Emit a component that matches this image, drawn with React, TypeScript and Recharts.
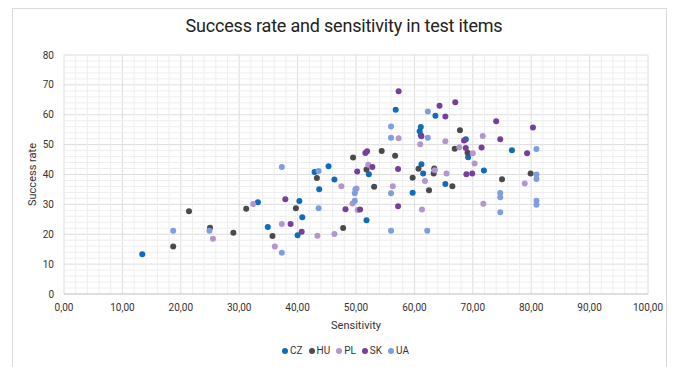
import React from "react";
import {
  ScatterChart,
  Scatter,
  XAxis,
  YAxis,
  CartesianGrid,
  ReferenceLine,
} from "recharts";

// sensitivity (x), success rate (y) per country
const czData = [
  { x: 13.4, y: 13.3 }, { x: 33.2, y: 30.7 }, { x: 34.9, y: 22.4 }, { x: 40.3, y: 31.1 },
  { x: 40.8, y: 25.7 }, { x: 40.0, y: 19.7 }, { x: 43.7, y: 35.1 }, { x: 42.9, y: 40.8 },
  { x: 45.3, y: 42.8 }, { x: 46.3, y: 38.3 }, { x: 52.2, y: 40.1 }, { x: 51.8, y: 24.7 },
  { x: 56.8, y: 61.7 }, { x: 61.5, y: 40.3 }, { x: 61.2, y: 43.4 }, { x: 61.1, y: 55.9 },
  { x: 60.9, y: 54.5 }, { x: 61.1, y: 53.1 }, { x: 63.6, y: 59.7 }, { x: 68.8, y: 51.8 },
  { x: 69.2, y: 45.8 }, { x: 71.9, y: 41.3 }, { x: 76.7, y: 48.1 }, { x: 59.7, y: 33.9 },
  { x: 65.3, y: 36.8 },
];
const huData = [
  { x: 18.7, y: 15.9 }, { x: 21.4, y: 27.7 }, { x: 25.0, y: 22.2 }, { x: 29.0, y: 20.5 },
  { x: 31.2, y: 28.5 }, { x: 35.7, y: 19.4 }, { x: 39.7, y: 28.7 }, { x: 43.3, y: 38.8 },
  { x: 47.8, y: 22.1 }, { x: 49.5, y: 45.7 }, { x: 54.4, y: 47.9 }, { x: 56.7, y: 46.3 },
  { x: 51.8, y: 41.7 }, { x: 53.1, y: 35.9 }, { x: 59.7, y: 38.9 }, { x: 60.7, y: 41.9 },
  { x: 63.4, y: 42.0 }, { x: 63.3, y: 40.3 }, { x: 67.8, y: 54.8 }, { x: 66.9, y: 48.6 },
  { x: 69.1, y: 47.3 }, { x: 75.0, y: 38.4 }, { x: 62.5, y: 34.7 }, { x: 66.5, y: 36.1 },
  { x: 79.9, y: 40.3 },
];
const plData = [
  { x: 25.5, y: 18.5 }, { x: 32.4, y: 30.1 }, { x: 36.1, y: 15.9 }, { x: 37.3, y: 23.4 },
  { x: 43.4, y: 19.5 }, { x: 47.5, y: 36.1 }, { x: 46.3, y: 20.1 }, { x: 52.1, y: 43.3 },
  { x: 50.1, y: 35.3 }, { x: 49.4, y: 30.3 }, { x: 50.3, y: 28.1 }, { x: 56.3, y: 36.1 },
  { x: 57.3, y: 52.1 }, { x: 61.0, y: 50.1 }, { x: 63.5, y: 41.4 }, { x: 65.5, y: 40.3 },
  { x: 65.3, y: 51.1 }, { x: 67.7, y: 49.1 }, { x: 71.7, y: 52.9 }, { x: 70.0, y: 47.1 },
  { x: 70.3, y: 43.7 }, { x: 61.8, y: 37.8 }, { x: 61.3, y: 28.3 }, { x: 71.8, y: 30.2 },
  { x: 78.9, y: 37.0 },
];
const skData = [
  { x: 37.9, y: 31.7 }, { x: 38.8, y: 23.4 }, { x: 40.7, y: 20.8 }, { x: 48.2, y: 28.4 },
  { x: 51.6, y: 47.2 }, { x: 51.9, y: 47.8 }, { x: 52.8, y: 42.5 }, { x: 50.2, y: 41.0 },
  { x: 50.7, y: 28.3 }, { x: 57.2, y: 29.4 }, { x: 57.2, y: 41.8 }, { x: 57.3, y: 67.9 },
  { x: 61.2, y: 52.8 }, { x: 64.3, y: 63.0 }, { x: 65.3, y: 59.4 }, { x: 67.0, y: 64.2 },
  { x: 68.5, y: 51.4 }, { x: 68.8, y: 48.9 }, { x: 71.5, y: 49.0 }, { x: 68.9, y: 40.1 },
  { x: 69.9, y: 40.3 }, { x: 74.0, y: 57.8 }, { x: 74.7, y: 51.8 }, { x: 80.3, y: 55.7 },
  { x: 79.3, y: 47.1 },
];
const uaData = [
  { x: 18.7, y: 21.2 }, { x: 24.9, y: 21.2 }, { x: 37.3, y: 42.5 }, { x: 37.3, y: 13.8 },
  { x: 43.6, y: 28.7 }, { x: 43.6, y: 41.2 }, { x: 49.9, y: 35.1 }, { x: 49.8, y: 33.7 },
  { x: 49.8, y: 31.2 }, { x: 56.0, y: 21.2 }, { x: 56.0, y: 33.7 }, { x: 56.0, y: 56.1 },
  { x: 56.0, y: 52.3 }, { x: 62.3, y: 52.3 }, { x: 62.3, y: 61.1 }, { x: 62.2, y: 21.2 },
  { x: 74.7, y: 33.8 }, { x: 74.7, y: 32.4 }, { x: 74.7, y: 27.4 }, { x: 80.9, y: 48.5 },
  { x: 80.9, y: 40.0 }, { x: 80.9, y: 38.5 }, { x: 80.9, y: 31.2 }, { x: 80.9, y: 29.9 },
];

const xTicks = [0, 10, 20, 30, 40, 50, 60, 70, 80, 90, 100];
const yTicks = [0, 10, 20, 30, 40, 50, 60, 70, 80];
// minor gridlines every 2 units
const xMinor = Array.from({ length: 51 }, (_, i) => i * 2).filter((v) => v % 10 !== 0);
const yMinor = Array.from({ length: 41 }, (_, i) => i * 2).filter((v) => v % 10 !== 0);

const series = [
  { name: "CZ", data: czData, color: "#0f6cbd" },
  { name: "HU", data: huData, color: "#4a4a4a" },
  { name: "PL", data: plData, color: "#b595d0" },
  { name: "SK", data: skData, color: "#773f9b" },
  { name: "UA", data: uaData, color: "#7d9ee0" },
];

const font = "Roboto, sans-serif";

const Dot = (props: any) => {
  const { cx, cy, fill } = props;
  if (cx == null || cy == null) return null;
  return <circle cx={cx} cy={cy} r={3} fill={fill} />;
};

export default function App() {
  return (
    <div
      style={{
        position: "absolute",
        left: 0,
        top: 0,
        width: 678,
        height: 367,
        background: "#fff",
        fontFamily: font,
        overflow: "hidden",
      }}
    >
      <div
        style={{
          position: "absolute",
          left: 12,
          top: 8,
          width: 655,
          height: 370,
          border: "1px solid #d9d9d9",
          boxSizing: "border-box",
        }}
      />
      <div
        style={{
          position: "absolute",
          left: 0,
          top: 15,
          width: 688,
          textAlign: "center",
          fontSize: 18,
          color: "#222",
          letterSpacing: -0.2,
        }}
      >
        Success rate and sensitivity in test items
      </div>
      <ScatterChart
        width={678}
        height={367}
        margin={{ top: 55, right: 30, bottom: 43, left: 14 }}
        style={{ position: "absolute", left: 0, top: 0 }}
      >
        {xMinor.map((v) => (
          <ReferenceLine key={"xm" + v} x={v} stroke="#eeeeee" strokeWidth={1} />
        ))}
        {yMinor.map((v) => (
          <ReferenceLine key={"ym" + v} y={v} stroke="#eeeeee" strokeWidth={1} />
        ))}
        <CartesianGrid stroke="#dcdcdc" />
        <XAxis
          type="number"
          dataKey="x"
          domain={[0, 100]}
          ticks={xTicks}
          height={30}
          tickFormatter={(v: number) => v.toFixed(2).replace(".", ",")}
          tickLine={false}
          axisLine={{ stroke: "#d0d0d0" }}
          tick={{ fontSize: 10, fill: "#333", fontFamily: font }}
          tickMargin={4}
          label={{
            value: "Sensitivity",
            position: "bottom",
            offset: -3,
            style: { fontSize: 11, fill: "#333", fontFamily: font },
          }}
        />
        <YAxis
          type="number"
          dataKey="y"
          domain={[0, 80]}
          ticks={yTicks}
          width={50}
          tickLine={false}
          axisLine={false}
          tick={{ fontSize: 10, fill: "#333", fontFamily: font }}
          tickMargin={4}
          label={{
            value: "Success rate",
            angle: -90,
            position: "insideLeft",
            offset: 18,
            style: { fontSize: 11, fill: "#333", fontFamily: font, textAnchor: "middle" },
          }}
        />
        {series.map((s) => (
          <Scatter
            key={s.name}
            name={s.name}
            data={s.data}
            fill={s.color}
            shape={<Dot />}
            isAnimationActive={false}
          />
        ))}
      </ScatterChart>
      <div
        style={{
          position: "absolute",
          left: 0,
          top: 345,
          width: 678,
          display: "flex",
          justifyContent: "center",
          paddingLeft: 13,
          boxSizing: "border-box",
          fontSize: 10,
          color: "#333",
        }}
      >
        {series.map((s) => (
          <span key={s.name} style={{ display: "inline-flex", alignItems: "center", margin: "0 3px" }}>
            <span
              style={{
                width: 6,
                height: 6,
                borderRadius: 3,
                background: s.color,
                marginRight: 2,
                display: "inline-block",
              }}
            />
            {s.name}
          </span>
        ))}
      </div>
    </div>
  );
}
